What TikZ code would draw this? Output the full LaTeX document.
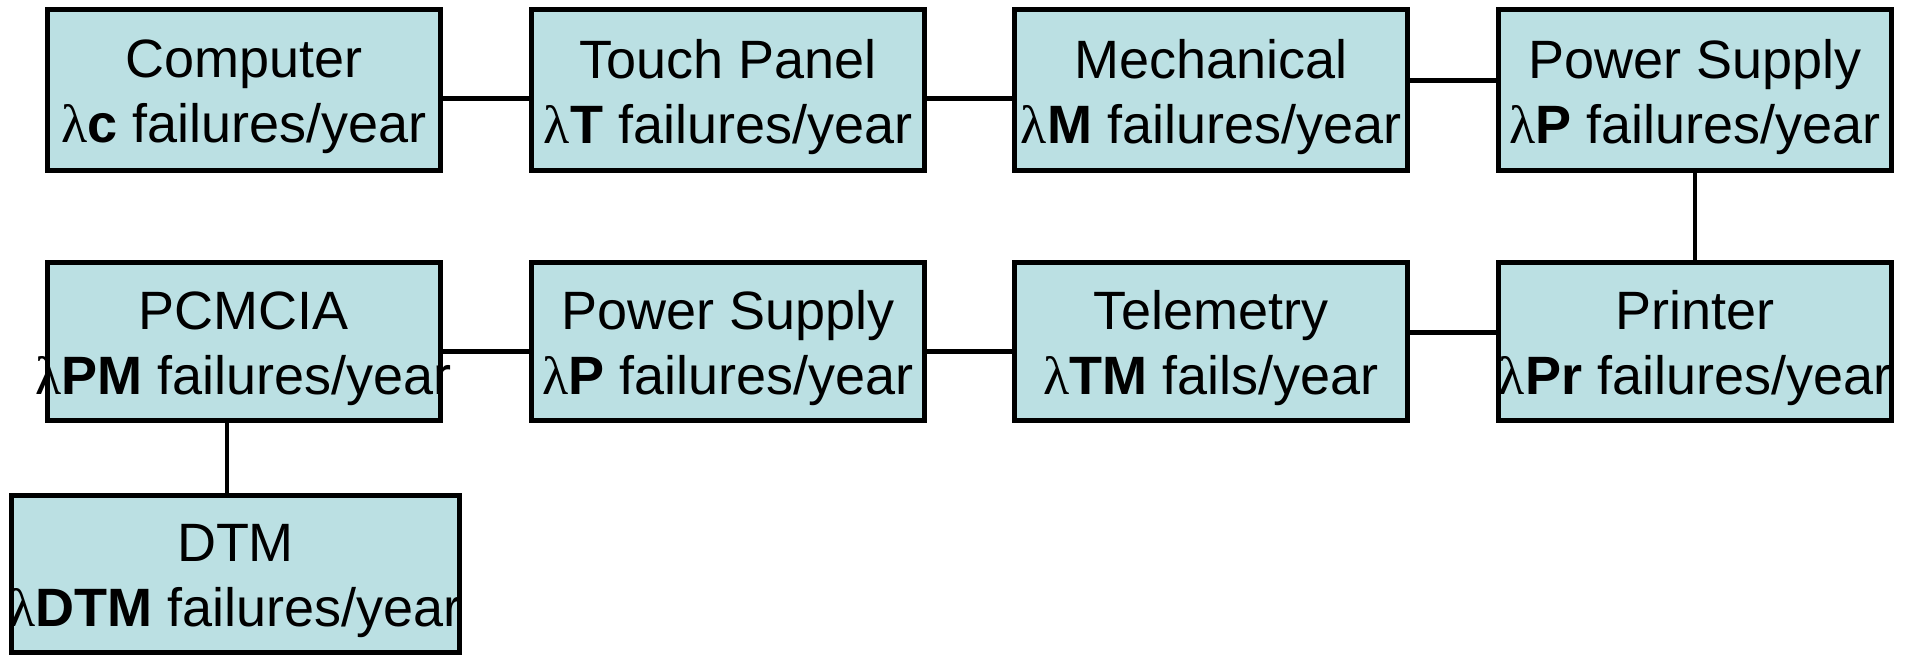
\documentclass[tikz,border=0pt]{standalone}
\usepackage{fontspec}
\setmainfont{Liberation Sans}
\newfontfamily\lamfont{Liberation Serif}
\newcommand\lam{{\lamfont λ}}
\definecolor{boxfill}{HTML}{BBE0E3}
\begin{document}
\begin{tikzpicture}[x=1pt,y=-1pt,
  box/.style={draw=black,line width=5pt,fill=boxfill,minimum width=393pt,minimum height=161pt,inner sep=0pt,anchor=center},
  rowtwo/.style={minimum height=158pt},
  txt/.style={align=center,font=\fontsize{54}{65}\selectfont,inner sep=0pt},
  conn/.style={line width=5pt},
  vconn/.style={line width=4.5pt}]
\useasboundingbox (0,0) rectangle (1911,657);
% row 1
\node[box] (comp) at (243.7,90) {};
\node[box] (touch) at (728,90) {};
\node[box] (mech) at (1211,90) {};
\node[box] (ps1) at (1695,90) {};
% row 2
\node[box,rowtwo] (pcm) at (243.7,341.5) {};
\node[box,rowtwo] (ps2) at (728,341.5) {};
\node[box,rowtwo] (tel) at (1211,341.5) {};
\node[box,rowtwo] (prn) at (1695,341.5) {};
% DTM
\node[box,minimum width=448pt,minimum height=157pt] (dtm) at (235.5,574) {};
% connector levels
\coordinate (ya) at (0,98);
\coordinate (yb) at (0,80);
\coordinate (yc) at (0,332);
\coordinate (yd) at (0,351);
\coordinate (xa) at (227,0);
\draw[conn] (comp.east |- ya) -- (touch.west |- ya);
\draw[conn] (touch.east |- ya) -- (mech.west |- ya);
\draw[conn] (mech.east |- yb) -- (ps1.west |- yb);
\draw[vconn] (ps1.south) -- (prn.north);
\draw[conn] (prn.west |- yc) -- (tel.east |- yc);
\draw[conn] (tel.west |- yd) -- (ps2.east |- yd);
\draw[conn] (ps2.west |- yd) -- (pcm.east |- yd);
\draw[vconn] (pcm.south -| xa) -- (dtm.north -| xa);
% texts
\node[txt] (tcomp) at ([yshift=-7pt]comp.center) {Computer\\\lam\textbf{c} failures/year};
\node[txt] (ttouch) at ([yshift=-7pt]touch.center) {Touch Panel\\\lam\textbf{T} failures/year};
\node[txt] (tmech) at ([yshift=-7pt]mech.center) {Mechanical\\\lam\textbf{M} failures/year};
\node[txt] (tps1) at ([yshift=-7pt]ps1.center) {Power Supply\\\lam\textbf{P} failures/year};
\node[txt] (tpcm) at ([yshift=-7pt]pcm.center) {PCMCIA\\\lam\textbf{PM} failures/year};
\node[txt] (tps2) at ([yshift=-7pt]ps2.center) {Power Supply\\\lam\textbf{P} failures/year};
\node[txt] (ttel) at ([yshift=-7pt]tel.center) {Telemetry\\\lam\textbf{TM} fails/year};
\node[txt] (tprn) at ([yshift=-7pt]prn.center) {Printer\\\lam\textbf{Pr} failures/year};
\node[txt] (tdtm) at ([yshift=-7pt]dtm.center) {DTM\\\lam\textbf{DTM} failures/year};
\end{tikzpicture}
\end{document}
